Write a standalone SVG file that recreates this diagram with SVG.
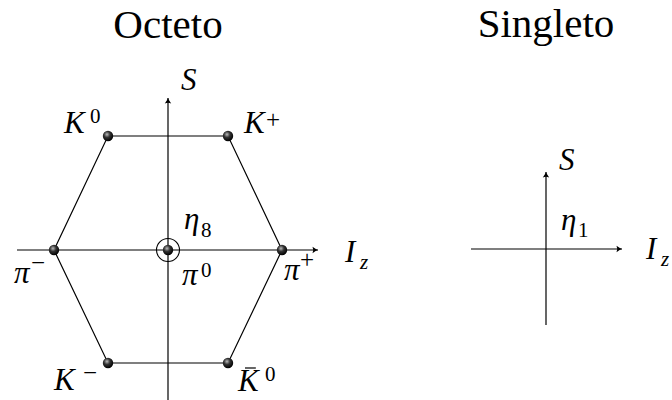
<svg xmlns="http://www.w3.org/2000/svg" width="672" height="400" viewBox="0 0 672 400">
<style>
text{font-family:"Liberation Serif","Times New Roman",Tinos,"Noto Serif","DejaVu Serif",FreeSerif,Times,serif;fill:#000}
.title{font-size:41px}
.m{font-style:italic;font-size:31px}
.s{font-style:normal;font-size:21px}
.pm{font-style:normal;font-size:25px}
.ln{stroke:#000;stroke-width:1.2;fill:none}
.ax{stroke:#000;stroke-width:1.2;fill:none}
</style>
<defs>
<radialGradient id="ball" cx="0.4" cy="0.35" r="0.65">
<stop offset="0" stop-color="#bbbbbb"/>
<stop offset="0.45" stop-color="#333333"/>
<stop offset="1" stop-color="#000000"/>
</radialGradient>
<marker id="arr" viewBox="-6 -4 7 8" refX="0" refY="0" markerWidth="7" markerHeight="8" markerUnits="userSpaceOnUse" orient="auto">
<path d="M-5.5,-3.2 Q-2,-0.6 0,0 Q-2,0.6 -5.5,3.2 Q-4,0 -5.5,-3.2 Z" fill="#000"/>
</marker>
</defs>

<text class="title" x="168" y="38" text-anchor="middle">Octeto</text>
<text class="title" x="546" y="37" text-anchor="middle">Singleto</text>

<g id="connectors">
<path class="ln" d="M108,136 L228,136 L282,250 L228,363 L108,363 L54,250 Z"/>
<line class="ax" x1="17" y1="250" x2="318" y2="250" marker-end="url(#arr)"/>
<line class="ax" x1="168" y1="400" x2="168" y2="98" marker-end="url(#arr)"/>
<line class="ax" x1="471" y1="249" x2="622" y2="249" marker-end="url(#arr)"/>
<line class="ax" x1="546" y1="325" x2="546" y2="172" marker-end="url(#arr)"/>
</g>

<g id="axis-labels-octet">
<text class="m" x="181" y="90">S</text>
<text class="m" x="345" y="262">I</text>
<text class="m" x="360" y="269" style="font-size:21px">z</text>
</g>

<g id="K0">
<circle cx="108" cy="136" r="5.2" fill="url(#ball)"/>
<text class="m" x="64" y="133">K</text>
<text class="s" x="90" y="123">0</text>
</g>
<g id="Kplus">
<circle cx="228" cy="136" r="5.2" fill="url(#ball)"/>
<text class="m" x="244" y="133">K</text>
<text class="pm" x="266" y="128">+</text>
</g>
<g id="piminus">
<circle cx="54" cy="250" r="5.2" fill="url(#ball)"/>
<text class="m" x="14" y="283">π</text>
<text class="pm" x="31" y="271">−</text>
</g>
<g id="pi0eta8">
<circle cx="168" cy="250" r="11.5" fill="none" stroke="#000" stroke-width="1.1"/>
<circle cx="168" cy="250" r="5.2" fill="url(#ball)"/>
<text class="m" x="184" y="229">η</text>
<text class="s" x="201" y="237">8</text>
<text class="m" x="182" y="285">π</text>
<text class="s" x="201" y="277">0</text>
</g>
<g id="piplus">
<circle cx="282" cy="250" r="5.2" fill="url(#ball)"/>
<text class="m" x="284" y="280">π</text>
<text class="pm" x="300" y="268">+</text>
</g>
<g id="Kminus">
<circle cx="108" cy="363" r="5.2" fill="url(#ball)"/>
<text class="m" x="54" y="390">K</text>
<text class="pm" x="83" y="381">−</text>
</g>
<g id="K0bar">
<circle cx="228" cy="363" r="5.2" fill="url(#ball)"/>
<text class="m" x="238" y="391">K</text>
<line x1="245" y1="368" x2="256" y2="368" stroke="#000" stroke-width="1.2"/>
<text class="s" x="265" y="381">0</text>
</g>

<g id="singlet">
<text class="m" x="559" y="170">S</text>
<text class="m" x="561" y="230">η</text>
<text class="s" x="578" y="237">1</text>
<text class="m" x="646" y="259">I</text>
<text class="m" x="661" y="266" style="font-size:21px">z</text>
</g>
</svg>
